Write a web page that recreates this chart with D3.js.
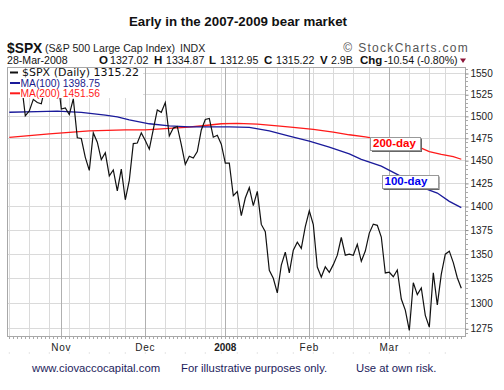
<!DOCTYPE html>
<html><head><meta charset="utf-8">
<script src="https://cdn.jsdelivr.net/npm/d3@7"></script>
<style>
html,body{margin:0;padding:0;background:#fff;}
svg{display:block;font-family:Arial,"Liberation Sans",sans-serif;}
</style></head><body>
<svg id="c" width="504" height="390"></svg>
<script>
// ---- data ----
const dates = [
 "2007-10-15","2007-10-16","2007-10-17","2007-10-18","2007-10-19","2007-10-22","2007-10-23","2007-10-24","2007-10-25","2007-10-26","2007-10-29","2007-10-30","2007-10-31",
 "2007-11-01","2007-11-02","2007-11-05","2007-11-06","2007-11-07","2007-11-08","2007-11-09","2007-11-12","2007-11-13","2007-11-14","2007-11-15","2007-11-16","2007-11-19","2007-11-20","2007-11-21","2007-11-23","2007-11-26","2007-11-27","2007-11-28","2007-11-29","2007-11-30",
 "2007-12-03","2007-12-04","2007-12-05","2007-12-06","2007-12-07","2007-12-10","2007-12-11","2007-12-12","2007-12-13","2007-12-14","2007-12-17","2007-12-18","2007-12-19","2007-12-20","2007-12-21","2007-12-24","2007-12-26","2007-12-27","2007-12-28","2007-12-31",
 "2008-01-02","2008-01-03","2008-01-04","2008-01-07","2008-01-08","2008-01-09","2008-01-10","2008-01-11","2008-01-14","2008-01-15","2008-01-16","2008-01-17","2008-01-18","2008-01-22","2008-01-23","2008-01-24","2008-01-25","2008-01-28","2008-01-29","2008-01-30","2008-01-31",
 "2008-02-01","2008-02-04","2008-02-05","2008-02-06","2008-02-07","2008-02-08","2008-02-11","2008-02-12","2008-02-13","2008-02-14","2008-02-15","2008-02-19","2008-02-20","2008-02-21","2008-02-22","2008-02-25","2008-02-26","2008-02-27","2008-02-28","2008-02-29",
 "2008-03-03","2008-03-04","2008-03-05","2008-03-06","2008-03-07","2008-03-10","2008-03-11","2008-03-12","2008-03-13","2008-03-14","2008-03-17","2008-03-18","2008-03-19","2008-03-20","2008-03-24","2008-03-25","2008-03-26","2008-03-27","2008-03-28"
];
const closes = [
 1548.71,1538.53,1541.24,1540.08,1500.63,1506.33,1519.59,1515.88,1514.40,1535.28,1540.98,1531.02,1549.38,
 1508.44,1509.65,1502.17,1520.27,1475.62,1474.77,1453.70,1439.18,1481.05,1470.58,1451.15,1458.74,1433.27,1439.70,1416.77,1440.70,1407.22,1428.23,1469.02,1469.72,1481.14,
 1472.42,1462.79,1485.01,1507.34,1504.66,1515.96,1477.65,1486.59,1488.41,1467.95,1445.90,1454.98,1453.00,1460.12,1484.46,1496.45,1497.66,1476.27,1478.49,1468.36,
 1447.16,1447.16,1411.63,1416.18,1390.19,1409.13,1420.33,1401.02,1416.25,1380.95,1373.20,1333.25,1325.19,1310.50,1338.60,1352.07,1330.61,1353.96,1362.30,1355.81,1378.55,
 1395.42,1380.82,1336.64,1326.45,1336.91,1331.29,1339.13,1348.86,1367.21,1348.86,1349.99,1348.78,1360.03,1342.53,1353.11,1371.80,1381.29,1380.02,1367.68,1330.63,
 1331.34,1326.75,1333.70,1304.34,1293.37,1273.37,1320.65,1308.77,1315.48,1288.14,1276.60,1330.74,1298.42,1329.51,1349.88,1352.99,1341.13,1325.76,1315.22
];
const ma100Dates = ["2007-10-15","2007-10-24","2007-10-31","2007-11-08","2007-11-16","2007-11-21","2007-11-27","2007-12-04","2007-12-11","2007-12-18","2007-12-26","2008-01-03","2008-01-10","2008-01-17","2008-01-25","2008-02-01","2008-02-08","2008-02-15","2008-02-21","2008-02-28","2008-03-04","2008-03-10","2008-03-13","2008-03-19","2008-03-25","2008-03-28"];
const ma100Values = [1504.7,1505.5,1506,1504.5,1501.5,1499.5,1496,1491.5,1489,1488,1488,1488,1487.3,1483.4,1477.6,1471.8,1465.2,1457.5,1451.5,1444,1437,1428,1421,1414.5,1405.5,1398.75];
const ma200Dates = ["2007-10-15","2007-10-29","2007-11-12","2007-11-26","2007-12-03","2007-12-10","2007-12-17","2007-12-24","2007-12-31","2008-01-07","2008-01-14","2008-01-22","2008-01-28","2008-02-04","2008-02-11","2008-02-15","2008-02-22","2008-03-03","2008-03-10","2008-03-13","2008-03-17","2008-03-20","2008-03-26","2008-03-28"];
const ma200Values = [1476,1480,1483.5,1484.5,1484.5,1486,1487.5,1489.5,1491.5,1492,1491,1489,1487.5,1485,1482,1479,1476.5,1472,1468,1464,1460,1457,1454.5,1451.56];
const yTicks = [1275,1300,1325,1350,1375,1400,1425,1450,1475,1500,1525,1550];
const monthLabels = ["Nov","Dec","2008","Feb","Mar"];
const monthStarts = ["2007-11-01","2007-12-03","2008-01-02","2008-02-01","2008-03-03"];

// ---- layout ----
const svg = d3.select("#c");
const L = 7, R = 466, T = 67, B = 337;
const x = d3.scaleLinear().domain([0, dates.length - 1]).range([9.3, 9.3 + 4 * (dates.length - 1)]);
const y = d3.scaleLog().domain([1267, 1557.7]).range([B, T]);
const idx = d => dates.indexOf(d);
const parse = d3.timeParse("%Y-%m-%d");

// title
svg.append("text").attr("x", 238).attr("y", 26).attr("text-anchor", "middle")
  .attr("font-size", "13.3px").attr("font-weight", "bold").attr("fill", "#111")
  .text("Early in the 2007-2009 bear market");

// header
svg.append("text").attr("x", 7).attr("y", 52.5).attr("font-size", "13.8px").attr("font-weight", "bold").attr("fill", "#111").text("$SPX");
svg.append("text").attr("x", 45).attr("y", 52).attr("font-size", "10.6px").attr("fill", "#222").text("(S&P 500 Large Cap Index)");
svg.append("text").attr("x", 180).attr("y", 52).attr("font-size", "10.6px").attr("fill", "#222").text("INDX");
svg.append("text").attr("x", 469).attr("y", 51.5).attr("text-anchor", "end").attr("font-size", "12px")
  .attr("letter-spacing", "1.3px").attr("fill", "#555").text("\u00A9 StockCharts.com");

const row2 = [
  {x: 7, t: "28-Mar-2008", b: false},
  {x: 99, t: "O", b: true}, {x: 110, t: "1327.02", b: false},
  {x: 154, t: "H", b: true}, {x: 166, t: "1334.87", b: false},
  {x: 209, t: "L", b: true}, {x: 220, t: "1312.95", b: false},
  {x: 264, t: "C", b: true}, {x: 276, t: "1315.22", b: false},
  {x: 320, t: "V", b: true}, {x: 331, t: "2.9B", b: false},
  {x: 360, t: "Chg", b: true}, {x: 384, t: "-10.54 (-0.80%)", b: false}
];
svg.selectAll("text.r2").data(row2).enter().append("text").attr("class", "r2")
  .attr("x", d => d.x).attr("y", 64).attr("font-size", d => d.b ? "11.5px" : "10.6px")
  .attr("font-weight", d => d.b ? "bold" : "normal").attr("fill", "#111").text(d => d.t);
svg.append("path").attr("d", "M460,58.5 L466,58.5 L463,63 Z").attr("fill", "#8b1538");

// plot background
svg.append("rect").attr("x", L).attr("y", T).attr("width", R - L).attr("height", B - T).attr("fill", "#fff");

// vertical grid (weekly minor, monthly major)
const weekIdx = [];
dates.forEach((d, i) => { if (i > 0 && parse(d).getDay() < parse(dates[i - 1]).getDay()) weekIdx.push(i); });
weekIdx.unshift(0);
svg.append("g").selectAll("line").data(weekIdx).enter().append("line")
  .attr("x1", d => x(d)).attr("x2", d => x(d)).attr("y1", T).attr("y2", B)
  .attr("stroke", "#dadada").attr("stroke-width", 1).attr("shape-rendering", "crispEdges");
svg.append("g").selectAll("line").data(yTicks).enter().append("line")
  .attr("x1", L).attr("x2", R).attr("y1", d => y(d)).attr("y2", d => y(d))
  .attr("stroke", "#dadada").attr("stroke-width", 1).attr("shape-rendering", "crispEdges");
svg.append("g").selectAll("line").data(monthStarts).enter().append("line")
  .attr("x1", d => x(idx(d))).attr("x2", d => x(idx(d))).attr("y1", T).attr("y2", B)
  .attr("stroke", "#b0b0b0").attr("stroke-width", 1).attr("shape-rendering", "crispEdges");

// clip
svg.append("clipPath").attr("id", "clip").append("rect").attr("x", L).attr("y", T).attr("width", R - L).attr("height", B - T);
const g = svg.append("g").attr("clip-path", "url(#clip)");

const maLine = d3.line().x(d => x(idx(d[0]))).y(d => y(d[1]));
g.append("path").datum(ma200Dates.map((d, i) => [d, ma200Values[i]]))
  .attr("d", maLine).attr("fill", "none").attr("stroke", "#ff1a1a").attr("stroke-width", 1.3);
g.append("path").datum(ma100Dates.map((d, i) => [d, ma100Values[i]]))
  .attr("d", maLine).attr("fill", "none").attr("stroke", "#1a1a9a").attr("stroke-width", 1.3);
const priceLine = d3.line().x((d, i) => x(i)).y(d => y(d));
g.append("path").datum(closes).attr("d", priceLine).attr("fill", "none").attr("stroke", "#111").attr("stroke-width", 1.2);

// frame
svg.append("rect").attr("x", L + 0.5).attr("y", T + 0.5).attr("width", R - L - 1).attr("height", B - T - 1)
  .attr("fill", "none").attr("stroke", "#a8a8a8").attr("shape-rendering", "crispEdges");

// right axis
const yAxis = d3.axisRight(y).tickValues(yTicks).tickFormat(d3.format("d")).tickSize(3).tickPadding(2);
const ya = svg.append("g").attr("transform", `translate(${R - 0.5},0)`).call(yAxis);
ya.select(".domain").remove();
ya.selectAll("line").attr("stroke", "#888");
ya.selectAll("text").attr("font-family", "Arial, 'Liberation Sans', sans-serif").attr("font-size", "10px").attr("fill", "#222");
const minorY = d3.range(1270, 1556, 5).filter(v => v % 25 !== 0);
svg.append("g").selectAll("line").data(minorY).enter().append("line")
  .attr("x1", R).attr("x2", R + 2).attr("y1", d => y(d)).attr("y2", d => y(d))
  .attr("stroke", "#aaa").attr("shape-rendering", "crispEdges");

// bottom daily ticks
svg.append("g").selectAll("line").data(d3.range(dates.length)).enter().append("line")
  .attr("x1", d => x(d)).attr("x2", d => x(d)).attr("y1", B).attr("y2", B + 1.5)
  .attr("stroke", "#aaa").attr("shape-rendering", "crispEdges");
svg.append("g").selectAll("rect").data(weekIdx).enter().append("rect")
  .attr("x", d => x(d) - 0.5).attr("y", 352.5).attr("width", 1).attr("height", 1).attr("fill", "#ccc");

// month labels
svg.append("g").selectAll("text").data(monthStarts).enter().append("text")
  .attr("x", d => x(idx(d))).attr("y", 350.5).attr("text-anchor", "middle")
  .attr("font-size", "10px").attr("letter-spacing", (d, i) => monthLabels[i] === "2008" ? "0px" : "0.8px")
  .attr("font-weight", (d, i) => monthLabels[i] === "2008" ? "bold" : "normal")
  .attr("fill", "#222").text((d, i) => monthLabels[i]);

// legend (covers lines)
svg.append("rect").attr("x", L + 1).attr("y", T + 1).attr("width", 135).attr("height", 30).attr("fill", "#fff");
const legend = [
  {t: "$SPX (Daily) 1315.22", c: "#111", mc: "#111", y: 76, fs: "11px", ff: "'DejaVu Sans', Verdana, sans-serif", my: 72.5},
  {t: "MA(100) 1398.75", c: "#1a1a8c", mc: "#1a1a9a", y: 87, fs: "10.3px", ff: "Arial, 'Liberation Sans', sans-serif", my: 83},
  {t: "MA(200) 1451.56", c: "#ff1a1a", mc: "#ff1a1a", y: 97.2, fs: "10.3px", ff: "Arial, 'Liberation Sans', sans-serif", my: 93.3}
];
legend.forEach((d, i) => {
  svg.append("line").attr("x1", 10).attr("x2", i === 0 ? 18 : 20).attr("y1", d.my).attr("y2", d.my)
    .attr("stroke", d.mc).attr("stroke-width", 2);
  svg.append("text").attr("x", i === 0 ? 22 : 20.5).attr("y", d.y).attr("font-size", d.fs)
    .attr("font-family", d.ff).attr("fill", d.c).text(d.t);
});

// annotation boxes
function note(bx, by, bw, bh, txt, col) {
  svg.append("rect").attr("x", bx + 2).attr("y", by + 2).attr("width", bw).attr("height", bh).attr("fill", "#666");
  svg.append("rect").attr("x", bx + 0.5).attr("y", by + 0.5).attr("width", bw).attr("height", bh)
    .attr("fill", "#fff").attr("stroke", "#999").attr("shape-rendering", "crispEdges");
  svg.append("text").attr("x", bx + 3).attr("y", by + bh - 3).attr("font-size", "11.5px").attr("font-weight", "bold")
    .attr("fill", col).text(txt);
}
note(370, 136.5, 50, 13.5, "200-day", "#ff0000");
note(381.5, 174.5, 56, 13.5, "100-day", "#0000ee");

// footer
const footer = [{x: 32, t: "www.ciovaccocapital.com"}, {x: 181, t: "For illustrative purposes only."}, {x: 356, t: "Use at own risk."}];
svg.selectAll("text.ft").data(footer).enter().append("text").attr("class", "ft")
  .attr("x", d => d.x).attr("y", 372).attr("font-size", "11.3px").attr("fill", "#1c1c5c").text(d => d.t);
</script>
</body></html>
